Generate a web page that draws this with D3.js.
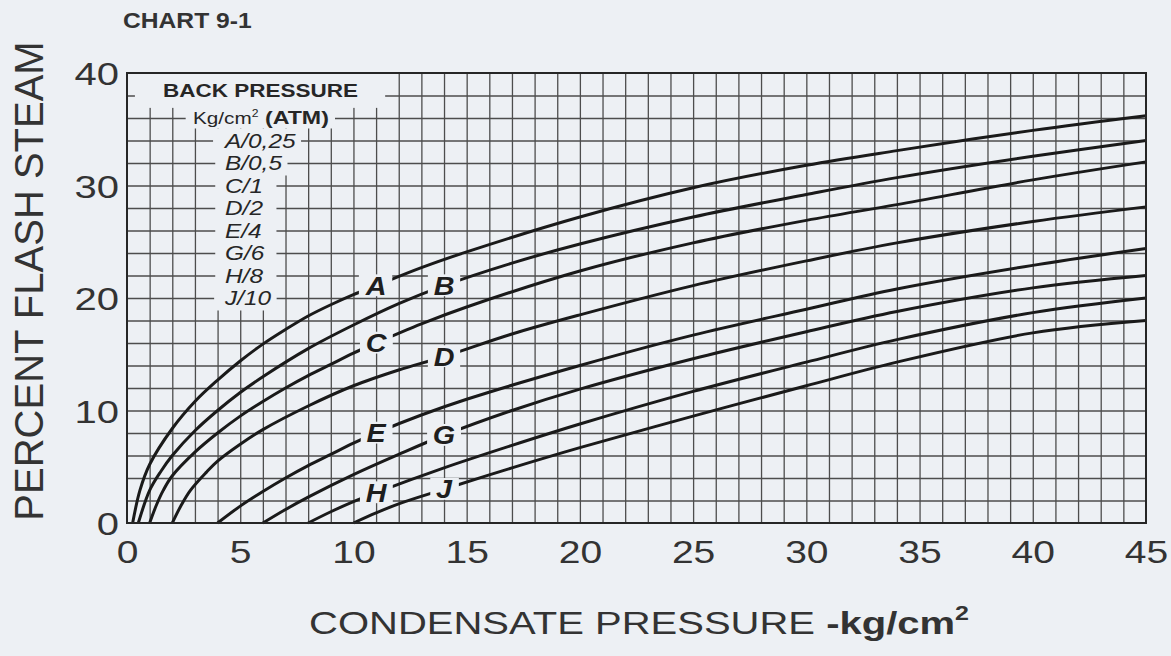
<!DOCTYPE html>
<html>
<head>
<meta charset="utf-8">
<script src="https://cdn.jsdelivr.net/npm/d3@7"></script>
<style>
  body { margin: 0; background: #edf0f4; }
  svg { display: block; font-family: "Liberation Sans", Arial, sans-serif; }
</style>
</head>
<body>
<svg width="1171" height="656"></svg>
<script>
// curve names, back pressures (kg/cm2) and where the letter sits on each curve
var curveIds = ["A", "B", "C", "D", "E", "G", "H", "J"];
var backPressures = ["0,25", "0,5", "1", "2", "4", "6", "8", "10"];
var legendRows = [34, 32, 30, 28, 26, 24, 22, 20];
var labelAt = [11, 14, 11, 14, 11, 14, 11, 14];

var xTicks = [0, 5, 10, 15, 20, 25, 30, 35, 40, 45];
var yTicks = [0, 10, 20, 30, 40];

// [condensate pressure, percent flash steam]
var curveA = [[0.25,0],[0.57,2.9],[1,5.2],[2,8.4],[3,10.8],[4,12.7],[5,14.4],[6,15.9],[7,17.2],[8,18.4],[9,19.4],[10,20.3],[11,21.1],[13,22.7],[15,24.1],[20,27.2],[25,29.8],[30,31.8],[34,33.1],[40,34.9],[45,36.2]];
var curveB = [[0.5,0],[1,2.9],[1.5,4.6],[2,6.0],[3,8.2],[4,10.0],[5,11.6],[6,13.0],[8,15.5],[10,17.6],[12,19.5],[14,21.1],[17,23.1],[20,24.8],[25,27.2],[30,29.2],[34,30.7],[40,32.6],[45,34.0]];
var curveC = [[1,0],[1.3,1.6],[1.6,2.9],[2,4.2],[3,6.3],[4,8.0],[5,9.5],[6,10.8],[7,12.0],[8,13.1],[9,14.1],[10,15.1],[11,16.0],[13,17.7],[15,19.2],[20,22.4],[25,24.9],[30,26.9],[34,28.3],[40,30.5],[45,32.1]];
var curveD = [[2,0],[2.4,1.6],[2.8,2.9],[3.5,4.5],[4,5.5],[5,7.0],[6,8.3],[8,10.4],[10,12.2],[12,13.6],[14,14.8],[17,16.8],[20,18.5],[25,21.1],[30,23.3],[34,24.9],[40,26.8],[45,28.1]];
var curveE = [[4,0],[5,1.5],[6,2.8],[7,4.0],[8,5.1],[9,6.1],[10,7.1],[11,8.0],[13,9.6],[15,11.0],[20,14.0],[25,16.7],[30,19.0],[34,20.8],[40,22.9],[45,24.4]];
var curveG = [[6,0],[7,1.2],[8,2.3],[10,4.3],[12,6.1],[14,7.8],[17,10.0],[20,11.9],[25,14.6],[30,17.0],[34,18.8],[40,20.9],[45,22.0]];
var curveH = [[8,0],[9,1.0],[10,1.9],[11,2.7],[14,4.9],[17,6.9],[20,8.8],[25,11.7],[30,14.3],[34,16.3],[40,18.7],[45,20.0]];
var curveJ = [[10,0],[11,0.9],[12,1.7],[14,3.0],[17,4.9],[20,6.7],[25,9.5],[30,12.2],[34,14.3],[40,16.9],[45,18.0]];
var curves = [curveA, curveB, curveC, curveD, curveE, curveG, curveH, curveJ];

var bg = "#edf0f4", ink = "#262626", gridInk = "#4d4d4d";

var svg = d3.select("svg");
svg.append("rect").attr("width", 1171).attr("height", 656).attr("fill", bg);

var x = d3.scaleLinear().domain([0, 45]).range([127, 1146]);
var y = d3.scaleLinear().domain([0, 40]).range([523, 73]);
var plotH = y(0) - y(40), plotW = x(45) - x(0);

// grid, one line per kg/cm2 and per 2 %
var vGrid = svg.append("g")
    .attr("transform", "translate(0," + y(0) + ")")
    .call(d3.axisBottom(x).tickValues(d3.range(1, 45)).tickSize(-plotH).tickFormat(""));
var hGrid = svg.append("g")
    .attr("transform", "translate(" + x(0) + ",0)")
    .call(d3.axisLeft(y).tickValues(d3.range(2, 40, 2)).tickSize(-plotW).tickFormat(""));
[vGrid, hGrid].forEach(function(g) {
  g.select(".domain").remove();
  g.selectAll("line").attr("stroke", gridInk).attr("stroke-width", 1.3);
});

// legend block, with the grid blanked out behind it
var legend = svg.append("g").attr("fill", ink);
legend.append("rect")
    .attr("x", x(0.35)).attr("y", y(40))
    .attr("width", x(11.4) - x(0.35)).attr("height", y(36.9) - y(40))
    .attr("fill", bg);

function backed(g, padL, padR, padT, padB, minRight) {
  var t = g.select("text").node().getBBox();
  var sx = +g.attr("data-sx");
  var right = t.x + t.width + padR;
  if (minRight != null) right = Math.max(right, minRight / sx);
  g.insert("rect", "text")
      .attr("x", t.x - padL).attr("y", t.y - padT)
      .attr("width", right - (t.x - padL)).attr("height", t.height + padT + padB)
      .attr("fill", bg);
}

var head = legend.append("g").attr("data-sx", 1.21)
    .attr("transform", "translate(163,97) scale(1.21,1)");
head.append("text").attr("font-size", 18.6).attr("font-weight", "bold").text("BACK PRESSURE");

var unit = legend.append("g").attr("data-sx", 1.22)
    .attr("transform", "translate(193," + (y(36) + 6) + ") scale(1.22,1)");
var unitText = unit.append("text").attr("font-size", 17);
unitText.append("tspan").text("Kg/cm");
unitText.append("tspan").attr("font-size", 10).attr("dy", -7).text("2");
unitText.append("tspan").attr("font-size", 19).attr("font-weight", "bold").attr("dy", 7).text(" (ATM)");
backed(unit, 6, 5, 0, 0);

var items = legend.selectAll("g.item").data(curveIds).join("g")
    .attr("class", "item")
    .attr("data-sx", 1.22)
    .attr("transform", function(d, i) { return "translate(225," + (y(legendRows[i]) + 7) + ") scale(1.22,1)"; });
items.append("text")
    .attr("font-size", 20).attr("font-style", "italic")
    .text(function(d, i) { return d + "/" + backPressures[i]; });
items.each(function() { backed(d3.select(this), 8, 4, 1, 1, x(6.6) - 225); });

// curves
var line = d3.line()
    .x(function(d) { return x(d[0]); })
    .y(function(d) { return y(d[1]); })
    .curve(d3.curveCatmullRom.alpha(0.5));

svg.append("g").selectAll("path").data(curves).join("path")
    .attr("d", line)
    .attr("fill", "none")
    .attr("stroke", "#1a1a1a")
    .attr("stroke-width", 3)
    .attr("stroke-linejoin", "round");

// letters sitting on the curves
var tags = svg.append("g").selectAll("g").data(curveIds).join("g")
    .attr("data-sx", 1.15)
    .attr("transform", function(d, i) {
      var c = curves[i];
      var onCurve = d3.scaleLinear().domain(c.map(function(p) { return p[0]; })).range(c.map(function(p) { return p[1]; }));
      return "translate(" + x(labelAt[i]) + "," + y(onCurve(labelAt[i])) + ") scale(1.15,1)";
    });
tags.append("text")
    .attr("text-anchor", "middle")
    .attr("dy", "0.36em")
    .attr("font-size", 25)
    .attr("font-weight", "bold")
    .attr("font-style", "italic")
    .attr("fill", "#1e1e1e")
    .text(function(d) { return d; });
tags.each(function() { backed(d3.select(this), 5, 5, -2, -4); });

// frame
svg.append("rect")
    .attr("x", x(0)).attr("y", y(40))
    .attr("width", plotW).attr("height", plotH)
    .attr("fill", "none").attr("stroke", ink).attr("stroke-width", 2);

// tick labels
var xAxis = svg.append("g")
    .attr("transform", "translate(0," + y(0) + ")")
    .call(d3.axisBottom(x).tickValues(xTicks).tickSize(0).tickFormat(d3.format("d")));
xAxis.select(".domain").remove();
xAxis.selectAll("text")
    .attr("y", 40).attr("dy", 0).attr("x", 0)
    .attr("transform", "scale(1.22,1)");

var yAxis = svg.append("g")
    .attr("transform", "translate(" + x(0) + ",0)")
    .call(d3.axisLeft(y).tickValues(yTicks).tickSize(0).tickFormat(d3.format("d")));
yAxis.select(".domain").remove();
yAxis.selectAll("text")
    .attr("x", -6.4).attr("dy", "0.36em")
    .attr("transform", "scale(1.25,1)");

[xAxis, yAxis].forEach(function(g) {
  g.attr("font-family", null).attr("font-size", null);
  g.selectAll("text").attr("font-size", 32).attr("fill", "#333");
});

// titles
svg.append("g").attr("transform", "translate(123,28) scale(1.12,1)")
  .append("text")
    .attr("font-size", 22).attr("font-weight", "bold").attr("fill", "#333")
    .text("CHART 9-1");

svg.append("text")
    .attr("transform", "translate(43,281) rotate(-90)")
    .attr("text-anchor", "middle")
    .attr("font-size", 40).attr("fill", "#333")
    .text("PERCENT FLASH STEAM");

var xTitle = svg.append("g").attr("transform", "translate(639,634) scale(1.25,1)")
  .append("text")
    .attr("text-anchor", "middle")
    .attr("font-size", 32).attr("fill", "#333");
xTitle.append("tspan").text("CONDENSATE PRESSURE ");
xTitle.append("tspan").attr("font-weight", "bold").text("-kg/cm");
xTitle.append("tspan").attr("font-weight", "bold").attr("font-size", 20).attr("dy", -14).text("2");
</script>
</body>
</html>
